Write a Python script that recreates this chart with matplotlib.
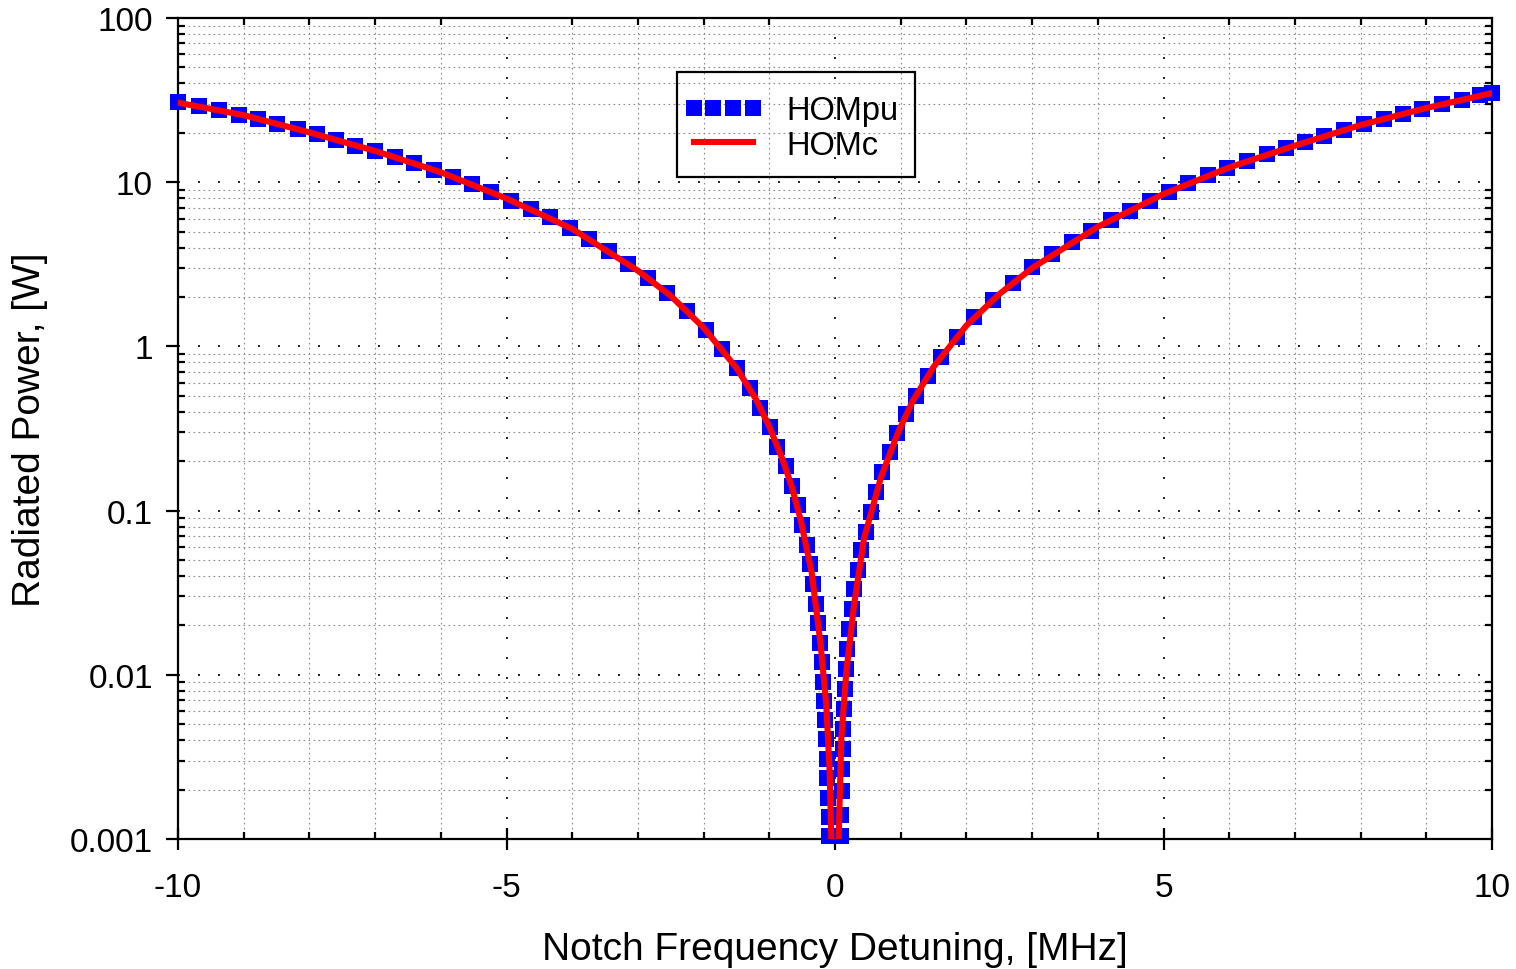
import matplotlib

matplotlib.use("Agg")
import matplotlib.pyplot as plt
from matplotlib.patches import Rectangle
from matplotlib.ticker import FixedLocator, MultipleLocator, LogLocator, FuncFormatter, NullFormatter

plt.rcParams["font.family"] = ["Liberation Sans", "DejaVu Sans"]
plt.rcParams["axes.unicode_minus"] = False

# HOMc: values (detuning in MHz, power in W)
homc_x = [
    -10, -9, -8, -7, -6, -5, -4, -3, -2.5, -2, -1.5, -1.207, -1.0, -0.8, -0.66,
    -0.523, -0.355, -0.218, -0.132, -0.081, -0.056, 0.0,
    0.055, 0.096, 0.172, 0.289, 0.441, 0.70, 0.964, 1.19, 1.5, 2, 2.5, 3, 4, 5,
    6, 7, 8, 9, 10,
]
homc_y = [
    30.5, 25.6, 20.1, 15.5, 11.5, 7.95, 5.2, 2.89, 2.03, 1.30, 0.74, 0.48,
    0.325, 0.206, 0.141, 0.088, 0.042, 0.0152, 0.0065, 0.00255, 0.001, 0.0001,
    0.001, 0.00407, 0.0104, 0.0265, 0.0675, 0.16, 0.302, 0.47, 0.75, 1.34, 2.08,
    3.0, 5.35, 8.47, 12.3, 16.7, 22.3, 28.3, 34.9,
]

# HOMpu: centres of the blue squares
hompu_x = [
    -10.0, -9.68, -9.38, -9.07, -8.78, -8.49, -8.18, -7.89, -7.60, -7.31, -7.00,
    -6.70, -6.41, -6.11, -5.81, -5.52, -5.23, -4.93, -4.63, -4.34, -4.03, -3.74,
    -3.44, -3.15, -2.85, -2.55, -2.26, -1.97, -1.715, -1.487, -1.294, -1.14,
    -0.99, -0.885, -0.751, -0.660, -0.568, -0.497, -0.431, -0.375, -0.335,
    -0.289, -0.254, -0.228, -0.203, -0.183, -0.167, -0.152, -0.142, -0.127,
    -0.117, -0.102, -0.091, -0.085,
    0.09, 0.095, 0.10, 0.105, 0.115, 0.125, 0.137, 0.150, 0.168, 0.190, 0.218,
    0.254, 0.294, 0.345, 0.401, 0.467, 0.543, 0.629, 0.720, 0.832, 0.949, 1.086,
    1.228, 1.416, 1.618, 1.862, 2.116, 2.41, 2.71, 3.00, 3.31, 3.60, 3.89, 4.20,
    4.49, 4.79, 5.08, 5.38, 5.68, 5.97, 6.27, 6.57, 6.86, 7.16, 7.45, 7.75, 8.05,
    8.35, 8.65, 8.94, 9.24, 9.54, 9.81, 10.0,
]
hompu_y = [
    30.8, 29.2, 27.5, 25.7, 24.1, 22.6, 21.0, 19.6, 18.1, 16.7, 15.5, 14.2, 13.0,
    11.9, 10.8, 9.72, 8.69, 7.73, 6.91, 6.18, 5.24, 4.49, 3.83, 3.18, 2.62, 2.10,
    1.65, 1.26, 0.96, 0.734, 0.56, 0.423, 0.321, 0.245, 0.186, 0.141, 0.108,
    0.0813, 0.0615, 0.0471, 0.0359, 0.0271, 0.0208, 0.0157, 0.0119, 0.0091,
    0.00697, 0.00533, 0.00407, 0.00308, 0.00236, 0.00178, 0.00136, 0.00105,
    0.00105, 0.00140, 0.00195, 0.00267, 0.00354, 0.00469, 0.00621, 0.00822,
    0.0109, 0.0144, 0.0191, 0.0253, 0.0334, 0.0433, 0.0573, 0.0741, 0.0982,
    0.130, 0.172, 0.228, 0.295, 0.390, 0.500, 0.656, 0.865, 1.146, 1.50, 1.93,
    2.44, 3.03, 3.65, 4.35, 5.07, 5.89, 6.72, 7.73, 8.77, 9.82, 11.1, 12.2, 13.5,
    14.8, 16.1, 17.5, 19.2, 20.9, 22.6, 24.2, 26.0, 27.9, 29.9, 31.8, 33.8, 34.9,
]

x_ticks = [-10, -5, 0, 5, 10]
y_ticks = [0.001, 0.01, 0.1, 1, 10, 100]

W, H = 1516, 970
fig = plt.figure(figsize=(W / 100, H / 100), dpi=100)
ax = fig.add_axes([178 / W, 1 - 840 / H, (1492 - 178) / W, (840 - 19) / H])

ax.plot(hompu_x, hompu_y, ls="none", marker="s", ms=11.2, mew=0,
        color="#0000ff", clip_on=False, label="HOMpu", zorder=3)
ax.plot(homc_x, homc_y, color="#ff0000", lw=4.4, label="HOMc", zorder=4)

ax.set_yscale("log")
ax.set_xlim(-10, 10)
ax.set_ylim(0.001, 100)

ax.xaxis.set_major_locator(FixedLocator(x_ticks))
ax.xaxis.set_minor_locator(MultipleLocator(1))
ax.yaxis.set_major_locator(FixedLocator(y_ticks))
ax.yaxis.set_minor_locator(LogLocator(base=10, subs=range(2, 10), numticks=20))
ax.yaxis.set_major_formatter(FuncFormatter(lambda v, p: f"{v:g}"))
ax.yaxis.set_minor_formatter(NullFormatter())

# grid: sparse black dots on majors, fine grey dots on minors
ax.grid(which="major", color="black", lw=1.2, dashes=(1.2, 10.8))
ax.grid(which="minor", color="#8c8c8c", lw=0.8, dashes=(1.5, 3.0))
ax.set_axisbelow(True)

for sp in ax.spines.values():
    sp.set_linewidth(1.6)

ax.tick_params(axis="x", which="major", direction="inout", length=16, width=1.6,
               pad=16, labelsize=24, top=False)
ax.tick_params(axis="y", which="major", direction="out", length=9, width=1.6,
               pad=9, labelsize=24, right=False)
ax.tick_params(which="minor", direction="in", length=5, width=1.6,
               top=True, right=True)

ax.set_xlabel("Notch Frequency Detuning, [MHz]", fontsize=28, labelpad=20)
ax.set_ylabel("Radiated Power, [W]", fontsize=28, labelpad=16)

leg = ax.legend(loc="center left", bbox_to_anchor=(684 / W, 1 - 129 / H),
                bbox_transform=fig.transFigure, fontsize=23.5, frameon=False,
                numpoints=4, handlelength=2.4, handletextpad=0.75,
                labelspacing=0.1, borderpad=0, borderaxespad=0)
fig.add_artist(Rectangle((677 / W, 1 - 178 / H), (915 - 677) / W, (178 - 73) / H,
                         transform=fig.transFigure, fill=False,
                         edgecolor="black", lw=1.6, zorder=5))

fig.savefig("out.png", dpi=100)
